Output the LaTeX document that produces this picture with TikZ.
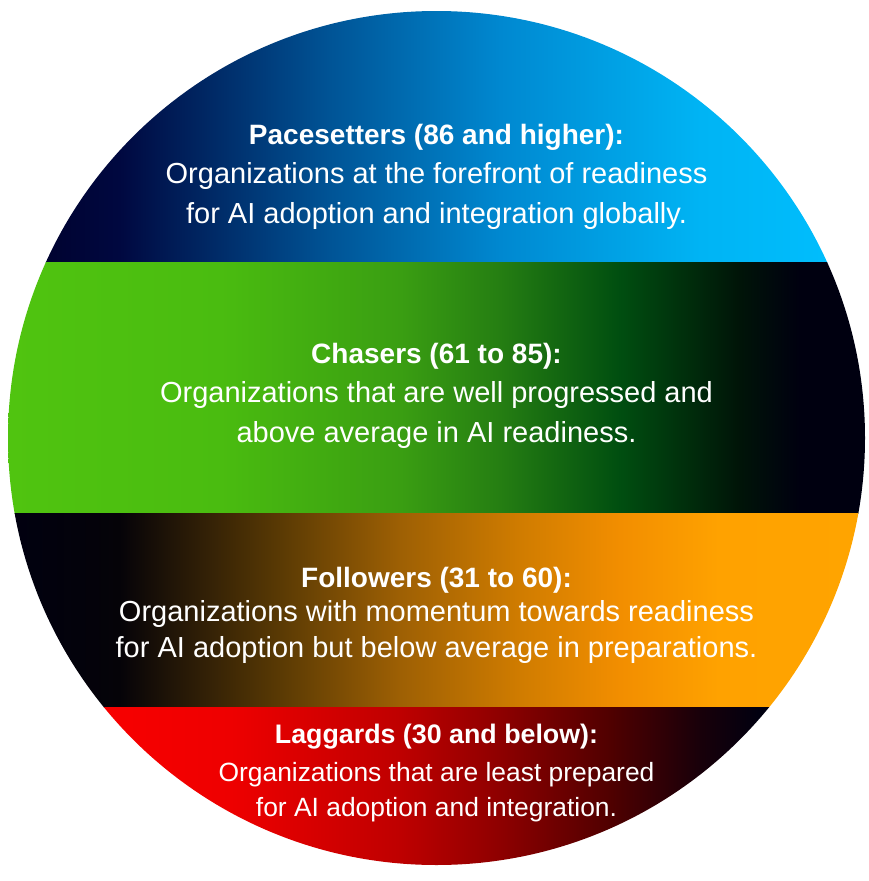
\documentclass[tikz,border=0pt]{standalone}
\usepackage{fontspec}
\setmainfont{Liberation Sans}
\definecolor{p0}{HTML}{000028}
\definecolor{p1}{HTML}{000840}
\definecolor{p2}{HTML}{005496}
\definecolor{p3}{HTML}{0088D0}
\definecolor{p4}{HTML}{00B4F4}
\definecolor{p5}{HTML}{00C0FF}
\definecolor{c0}{HTML}{50C410}
\definecolor{c1}{HTML}{4ABC10}
\definecolor{c2}{HTML}{3A9E12}
\definecolor{c3}{HTML}{257E12}
\definecolor{c4}{HTML}{004E10}
\definecolor{c5}{HTML}{001408}
\definecolor{c6}{HTML}{000010}
\definecolor{f0}{HTML}{000010}
\definecolor{f1}{HTML}{050308}
\definecolor{f2}{HTML}{5A3A04}
\definecolor{f3}{HTML}{9E6004}
\definecolor{f4}{HTML}{D07C00}
\definecolor{f5}{HTML}{F28E00}
\definecolor{f6}{HTML}{FFA200}
\definecolor{f7}{HTML}{FFA400}
\definecolor{l0}{HTML}{FF0000}
\definecolor{l1}{HTML}{EE0000}
\definecolor{l2}{HTML}{BE0000}
\definecolor{l3}{HTML}{8E0000}
\definecolor{l4}{HTML}{500000}
\definecolor{l5}{HTML}{18000A}
\definecolor{l6}{HTML}{000010}
\pgfdeclarehorizontalshading{paceshade}{100bp}{color(0bp)=(p0); color(25bp)=(p0); color(31.5bp)=(p1); color(43.8bp)=(p2); color(53.7bp)=(p3); color(65.4bp)=(p4); color(75bp)=(p5); color(100bp)=(p5)}
\pgfdeclarehorizontalshading{chaseshade}{100bp}{color(0bp)=(c0); color(25bp)=(c0); color(37.4bp)=(c1); color(47.9bp)=(c2); color(53.7bp)=(c3); color(60.7bp)=(c4); color(67.7bp)=(c5); color(71.2bp)=(c6); color(75bp)=(c6); color(100bp)=(c6)}
\pgfdeclarehorizontalshading{followshade}{100bp}{color(0bp)=(f0); color(25bp)=(f0); color(31.5bp)=(f1); color(40.9bp)=(f2); color(47.9bp)=(f3); color(54.9bp)=(f4); color(60.7bp)=(f5); color(66.5bp)=(f6); color(75bp)=(f7); color(100bp)=(f7)}
\pgfdeclarehorizontalshading{lagshade}{100bp}{color(0bp)=(l0); color(25bp)=(l0); color(38bp)=(l1); color(47.9bp)=(l2); color(53.7bp)=(l3); color(60.1bp)=(l4); color(65.4bp)=(l5); color(68.9bp)=(l6); color(75bp)=(l6); color(100bp)=(l6)}
\tikzset{
  ttl/.style={text=white, inner sep=0pt, anchor=base, font=\fontsize{28}{34}\selectfont\bfseries},
  body/.style={text=white, inner sep=0pt, anchor=base, font=\fontsize{29}{35}\selectfont},
  smallttl/.style={ttl, font=\fontsize{26.8}{32}\selectfont\bfseries},
  smallbody/.style={body, font=\fontsize{26.4}{32}\selectfont},
}
\begin{document}
\begin{tikzpicture}[x=1pt,y=-1pt]
\useasboundingbox (0,0) rectangle (869,881);
\begin{scope}
  \clip (436.5,438) ellipse [x radius=428.5, y radius=427];
  \shade[shading=paceshade] (8,0) rectangle (865,262);
  \shade[shading=chaseshade] (8,262) rectangle (865,513);
  \shade[shading=followshade] (8,513) rectangle (865,707);
  \shade[shading=lagshade] (8,707) rectangle (865,881);
\end{scope}
\node[ttl] (pt) at (436.5,144) {Pacesetters (86 and higher):};
\node[body] (pa) at (436.5,183) {Organizations at the forefront of readiness};
\node[body] (pb) at (436.5,223) {for AI adoption and integration globally.};
\node[ttl] (ct) at (436.5,363) {Chasers (61 to 85):};
\node[body] (ca) at (436.5,402) {Organizations that are well progressed and};
\node[body] (cb) at (436.5,442) {above average in AI readiness.};
\node[ttl] (ft) at (436.5,587) {Followers (31 to 60):};
\node[body] (fa) at (436.5,621) {Organizations with momentum towards readiness};
\node[body] (fb) at (436.5,657) {for AI adoption but below average in preparations.};
\node[smallttl] (lt) at (436.5,743) {Laggards (30 and below):};
\node[smallbody] (la) at (436.5,781) {Organizations that are least prepared};
\node[smallbody] (lb) at (436.5,816) {for AI adoption and integration.};
\end{tikzpicture}
\end{document}
